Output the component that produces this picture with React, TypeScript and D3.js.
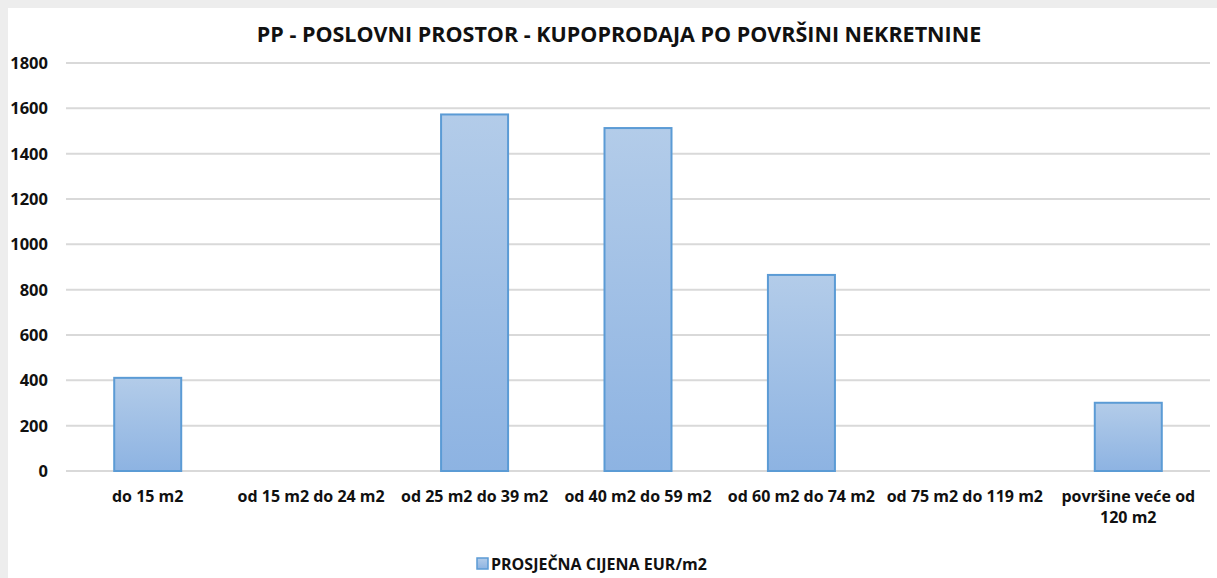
import * as d3 from 'd3'
import { useEffect, useRef } from 'react'

const categories = [
  'do 15 m2',
  'od 15 m2 do 24 m2',
  'od 25 m2 do 39 m2',
  'od 40 m2 do 59 m2',
  'od 60 m2 do 74 m2',
  'od 75 m2 do 119 m2',
  'površine veće od|120 m2',
]
const values = [411, 0, 1573, 1513, 865, 0, 301]
const yTicks = [0, 200, 400, 600, 800, 1000, 1200, 1400, 1600, 1800]
const seriesName = 'PROSJEČNA CIJENA EUR/m2'
const title = 'PP - POSLOVNI PROSTOR - KUPOPRODAJA PO POVRŠINI NEKRETNINE'

const W = 1217
const H = 578
const FONT = '"Open Sans", Lato, sans-serif'

export default function App() {
  const svgRef = useRef<SVGSVGElement>(null)

  useEffect(() => {
    const svg = d3.select(svgRef.current)
    svg.selectAll('*').remove()

    // page + panel
    svg.append('rect').attr('width', W).attr('height', H).attr('fill', '#ededed')
    svg.append('rect').attr('x', 8).attr('y', 8).attr('width', W - 8).attr('height', H - 8).attr('fill', '#ffffff')

    const defs = svg.append('defs')
    const grad = defs
      .append('linearGradient')
      .attr('id', 'barGrad')
      .attr('x1', 0)
      .attr('y1', 0)
      .attr('x2', 0)
      .attr('y2', 1)
    grad.append('stop').attr('offset', '0%').attr('stop-color', '#b3cce9')
    grad.append('stop').attr('offset', '100%').attr('stop-color', '#8db3e2')

    const left = 66
    const right = 1210
    const top = 63
    const bottom = 471

    const x = d3.scaleBand().domain(categories).range([left, right]).paddingInner(0.59).paddingOuter(0.295)
    const y = d3.scaleLinear().domain([0, 1800]).range([bottom, top])

    // title
    svg
      .append('text')
      .attr('x', 619)
      .attr('y', 42)
      .attr('text-anchor', 'middle')
      .attr('font-family', FONT)
      .attr('font-weight', 'bold')
      .attr('font-size', 21.5)
      .attr('fill', '#111')
      .text(title)

    // gridlines
    svg
      .append('g')
      .selectAll('line')
      .data(yTicks)
      .join('line')
      .attr('x1', left)
      .attr('x2', right)
      .attr('y1', (d) => y(d))
      .attr('y2', (d) => y(d))
      .attr('stroke', '#d9d9d9')
      .attr('stroke-width', 2)

    // y labels
    svg
      .append('g')
      .selectAll('text')
      .data(yTicks)
      .join('text')
      .attr('x', 48)
      .attr('y', (d) => y(d) + 6)
      .attr('text-anchor', 'end')
      .attr('font-family', FONT)
      .attr('font-weight', 'bold')
      .attr('font-size', 16.5)
      .attr('fill', '#111')
      .text((d) => d)

    // bars
    svg
      .append('g')
      .selectAll('rect')
      .data(values.map((v, i) => ({ c: categories[i], v })).filter((d) => d.v > 0))
      .join('rect')
      .attr('x', (d) => x(d.c)!)
      .attr('y', (d) => y(d.v))
      .attr('width', x.bandwidth())
      .attr('height', (d) => bottom - y(d.v))
      .attr('fill', 'url(#barGrad)')
      .attr('stroke', '#5b9bd5')
      .attr('stroke-width', 2)

    // x labels
    const xl = svg
      .append('g')
      .selectAll('text')
      .data(categories)
      .join('text')
      .attr('x', (d) => x(d)! + x.bandwidth() / 2)
      .attr('y', 502)
      .attr('text-anchor', 'middle')
      .attr('font-family', FONT)
      .attr('font-weight', 'bold')
      .attr('font-size', 16)
      .attr('fill', '#111')
    xl.selectAll('tspan')
      .data((d) => d.split('|'))
      .join('tspan')
      .attr('x', function () {
        return (this.parentNode as SVGTextElement).getAttribute('x')
      })
      .attr('dy', (d, i) => (i === 0 ? 0 : 21))
      .text((d) => d)

    // legend
    const lg = svg.append('g').attr('transform', 'translate(477,558)')
    lg.append('rect')
      .attr('width', 11)
      .attr('height', 11)
      .attr('fill', 'url(#barGrad)')
      .attr('stroke', '#5b9bd5')
      .attr('stroke-width', 1.5)
    lg.append('text')
      .attr('x', 14)
      .attr('y', 12)
      .attr('font-family', FONT)
      .attr('font-weight', 'bold')
      .attr('font-size', 16)
      .attr('fill', '#111')
      .text(seriesName)
  }, [])

  return (
    <>
      <style>{'body{margin:0}'}</style>
      <svg ref={svgRef} width={W} height={H} style={{ display: 'block' }} />
    </>
  )
}
